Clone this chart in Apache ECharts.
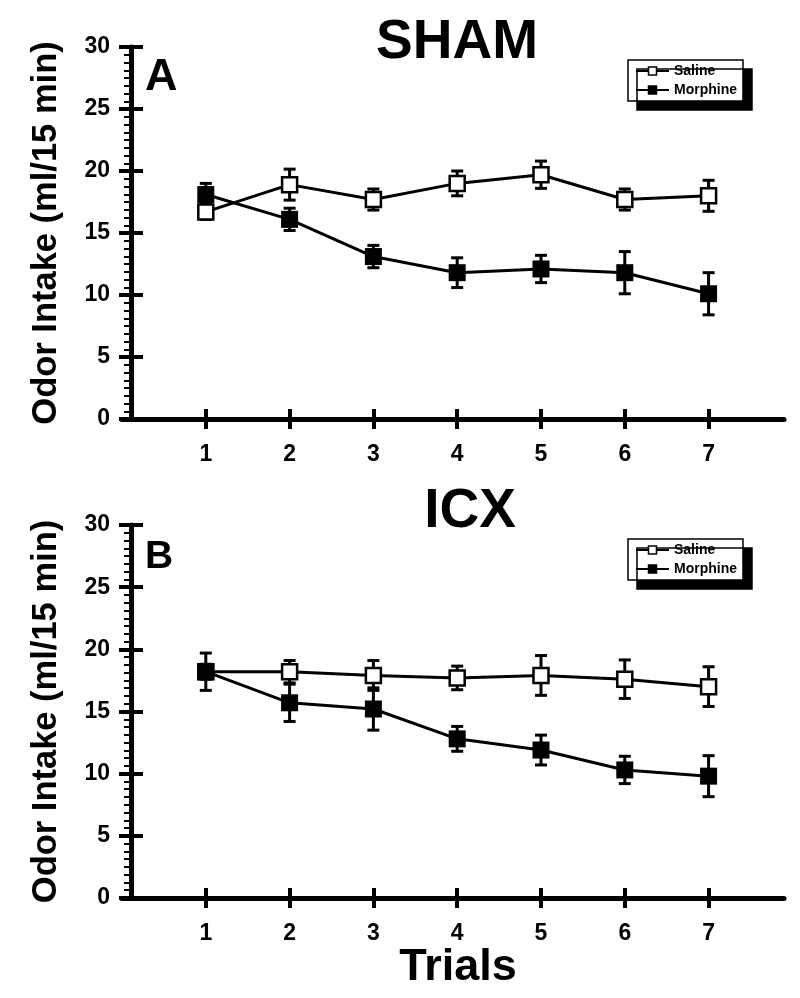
<!DOCTYPE html>
<html>
<head>
<meta charset="utf-8">
<script src="https://cdn.jsdelivr.net/npm/echarts@6/dist/echarts.min.js"></script>
<style>
html,body{margin:0;padding:0;background:#fff;}
#chart{width:800px;height:998px;}
</style>
</head>
<body>
<div id="chart"></div>
<script>
// ---- data ----
var trials = [1, 2, 3, 4, 5, 6, 7];
var yTicks = [0, 5, 10, 15, 20, 25, 30];
var shamSalineMean   = [16.7, 18.9, 17.7, 19.0, 19.7, 17.7, 18.0];
var shamSalineSem    = [0.6, 1.25, 0.85, 1.0, 1.1, 0.85, 1.25];
var shamMorphineMean = [18.1, 16.1, 13.1, 11.8, 12.1, 11.8, 10.1];
var shamMorphineSem  = [0.9, 0.9, 0.9, 1.2, 1.1, 1.7, 1.7];
var icxSalineMean    = [18.2, 18.2, 17.9, 17.7, 17.9, 17.6, 17.0];
var icxSalineSem     = [0.6, 0.9, 1.2, 0.95, 1.6, 1.55, 1.6];
var icxMorphineMean  = [18.2, 15.7, 15.2, 12.8, 11.9, 10.3, 9.8];
var icxMorphineSem   = [1.5, 1.5, 1.7, 1.0, 1.2, 1.1, 1.65];

var FONT = 'Liberation Sans, Arial, Helvetica, sans-serif';

function pts(mean) { return trials.map(function (t, i) { return [t, mean[i]]; }); }
function errPts(mean, sem) { return trials.map(function (t, i) { return [t, mean[i], sem[i]]; }); }

function errRender(params, api) {
  var x = api.value(0), y = api.value(1), e = api.value(2);
  var top = api.coord([x, y + e]);
  var bot = api.coord([x, y - e]);
  var hw = 6;
  var st = { stroke: '#000', lineWidth: 3 };
  return {
    type: 'group',
    children: [
      { type: 'line', shape: { x1: top[0], y1: top[1], x2: bot[0], y2: bot[1] }, style: st },
      { type: 'line', shape: { x1: top[0] - hw, y1: top[1], x2: top[0] + hw, y2: top[1] }, style: st },
      { type: 'line', shape: { x1: bot[0] - hw, y1: bot[1], x2: bot[0] + hw, y2: bot[1] }, style: st }
    ]
  };
}

function xAxes(gridIndex) {
  return [
    {
      type: 'value', gridIndex: gridIndex, min: 0, max: 7.9, position: 'bottom',
      splitLine: { show: false },
      axisLine: { show: true, lineStyle: { color: '#000', width: 5 } },
      axisTick: { show: true, customValues: trials, length: 10, lineStyle: { color: '#000', width: 4 } },
      axisLabel: { show: true, customValues: trials, margin: 24, color: '#000', fontSize: 23, fontWeight: 'bold', fontFamily: FONT }
    },
    {
      type: 'value', gridIndex: gridIndex, min: 0, max: 7.9, position: 'bottom',
      splitLine: { show: false },
      axisLine: { show: false },
      axisTick: { show: true, inside: true, customValues: trials, length: 10, lineStyle: { color: '#000', width: 4 } },
      axisLabel: { show: false }
    }
  ];
}

function yAxes(gridIndex) {
  return [
    {
      type: 'value', gridIndex: gridIndex, min: 0, max: 30, interval: 5, position: 'left', offset: -9,
      name: 'Odor Intake (ml/15 min)', nameLocation: 'middle', nameGap: 67,
      nameTextStyle: { color: '#000', fontSize: 34.5, fontWeight: 'bold', fontFamily: FONT },
      splitLine: { show: false },
      axisLine: { show: true, lineStyle: { color: '#000', width: 5 } },
      axisTick: { show: true, length: 12, lineStyle: { color: '#000', width: 4 } },
      minorTick: { show: true, splitNumber: 8, length: 7, lineStyle: { color: '#000', width: 2 } },
      axisLabel: { show: true, margin: 21, color: '#000', fontSize: 23, fontWeight: 'bold', fontFamily: FONT }
    },
    {
      type: 'value', gridIndex: gridIndex, min: 0, max: 30, interval: 5, position: 'left', offset: -9,
      splitLine: { show: false },
      axisLine: { show: false },
      axisTick: { show: true, inside: true, length: 12, lineStyle: { color: '#000', width: 4 } },
      axisLabel: { show: false }
    }
  ];
}

function legend(top) {
  return {
    left: 628, top: top, orient: 'vertical', selectedMode: false,
    data: ['Saline', 'Morphine'],
    itemWidth: 33, itemHeight: 10, itemGap: 5,
    padding: [4, 6, 4, 7],
    backgroundColor: '#fff', borderColor: '#000', borderWidth: 1.5,
    shadowColor: '#000', shadowBlur: 0, shadowOffsetX: 9, shadowOffsetY: 9,
    textStyle: { color: '#000', fontSize: 14, fontWeight: 'bold', fontFamily: FONT },
    itemStyle: { borderWidth: 1.5 }
  };
}

function lineSeries(name, data, xi, yi, filled) {
  return {
    type: 'line', name: name, data: data, xAxisIndex: xi, yAxisIndex: yi,
    symbol: 'rect', symbolSize: filled ? 17 : 15,
    itemStyle: { color: filled ? '#000' : '#fff', borderColor: '#000', borderWidth: filled ? 0 : 2.5 },
    lineStyle: { color: '#000', width: 3 },
    z: filled ? 4 : 3, animation: false
  };
}

function errSeries(data, xi, yi) {
  return {
    type: 'custom', data: data, xAxisIndex: xi, yAxisIndex: yi,
    encode: { x: 0, y: 1 }, renderItem: errRender, z: 2, animation: false, silent: true
  };
}

var option = {
  backgroundColor: '#fff',
  animation: false,
  grid: [
    { left: 122, top: 47, width: 662, height: 372 },
    { left: 122, top: 525, width: 662, height: 373 }
  ],
  xAxis: xAxes(0).concat(xAxes(1)),
  yAxis: yAxes(0).concat(yAxes(1)),
  legend: [legend(60), legend(539)],
  graphic: [
    { type: 'text', x: 457, y: 43, style: { text: 'SHAM', fill: '#000', font: 'bold 55px ' + FONT, align: 'center', verticalAlign: 'middle' } },
    { type: 'text', x: 145, y: 78, style: { text: 'A', fill: '#000', font: 'bold 45px ' + FONT, align: 'left', verticalAlign: 'middle' } },
    { type: 'text', x: 470, y: 512, style: { text: 'ICX', fill: '#000', font: 'bold 55px ' + FONT, align: 'center', verticalAlign: 'middle' } },
    { type: 'text', x: 145, y: 557, style: { text: 'B', fill: '#000', font: 'bold 39px ' + FONT, align: 'left', verticalAlign: 'middle' } },
    { type: 'text', x: 458, y: 968, style: { text: 'Trials', fill: '#000', font: 'bold 45px ' + FONT, align: 'center', verticalAlign: 'middle' } }
  ],
  series: [
    errSeries(errPts(shamSalineMean, shamSalineSem), 0, 0),
    errSeries(errPts(shamMorphineMean, shamMorphineSem), 0, 0),
    lineSeries('Saline', pts(shamSalineMean), 0, 0, false),
    lineSeries('Morphine', pts(shamMorphineMean), 0, 0, true),
    errSeries(errPts(icxSalineMean, icxSalineSem), 2, 2),
    errSeries(errPts(icxMorphineMean, icxMorphineSem), 2, 2),
    lineSeries('Saline', pts(icxSalineMean), 2, 2, false),
    lineSeries('Morphine', pts(icxMorphineMean), 2, 2, true)
  ]
};

var chart = echarts.init(document.getElementById('chart'), null, { renderer: 'canvas' });
chart.setOption(option);
</script>
</body>
</html>
